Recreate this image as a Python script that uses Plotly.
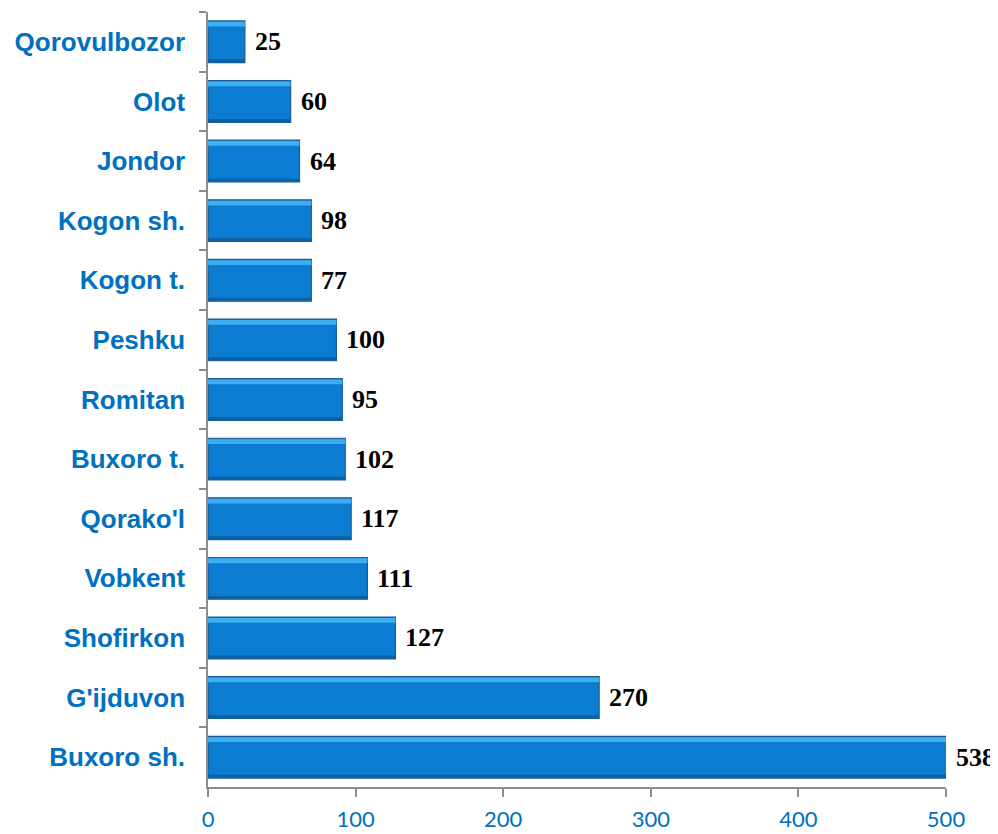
import plotly.graph_objects as go

categories = ["Qorovulbozor", "Olot", "Jondor", "Kogon sh.", "Kogon t.", "Peshku",
              "Romitan", "Buxoro t.", "Qorako'l", "Vobkent", "Shofirkon", "G'ijduvon", "Buxoro sh."]
bar_values = [25, 56, 62, 70, 70, 87, 91, 93, 97, 108, 127, 265, 538]
label_values = [25, 60, 64, 98, 77, 100, 95, 102, 117, 111, 127, 270, 538]
x_ticks = [0, 100, 200, 300, 400, 500]

X_MAX = 500

fig = go.Figure()
fig.add_trace(go.Bar(
    y=categories, x=bar_values, orientation="h", width=0.7,
    marker=dict(color="#0B7CD2", line=dict(color="#1A5C94", width=1.2)),
    hoverinfo="x+y",
))
# light highlight band along the top of each bar
fig.add_trace(go.Bar(
    y=categories, x=bar_values, orientation="h", width=0.08, offset=-0.335,
    marker=dict(color="#3FAEF0", line=dict(width=0)),
    hoverinfo="skip",
))
# darker band along the bottom of each bar
fig.add_trace(go.Bar(
    y=categories, x=bar_values, orientation="h", width=0.05, offset=0.295,
    marker=dict(color="#0C5FA0", line=dict(width=0)),
    hoverinfo="skip",
))

for c, v, lab in zip(categories, bar_values, label_values):
    fig.add_annotation(x=min(v, X_MAX), y=c, text=f"<b>{lab}</b>", showarrow=False,
                       xanchor="left", xshift=8,
                       font=dict(family="Liberation Serif", size=26, color="#000000"))

fig.update_layout(
    width=990, height=826,
    margin=dict(l=200, r=52, t=4, b=47),
    paper_bgcolor="white", plot_bgcolor="white",
    barmode="overlay", showlegend=False,
    xaxis=dict(range=[0, X_MAX], tickvals=x_ticks, showgrid=False, zeroline=False,
               automargin=False,
               showline=True, linecolor="#8C8C8C", linewidth=1.5,
               ticks="outside", ticklen=8, tickcolor="#8C8C8C", tickwidth=1.5,
               ticklabelstandoff=4,
               tickfont=dict(family="Lato", size=22, color="#0070C0")),
    yaxis=dict(autorange="reversed", showgrid=False, zeroline=False,
               automargin=False,
               showline=True, linecolor="#8C8C8C", linewidth=1.5,
               ticks="outside", ticklen=7, tickcolor="#8C8C8C", tickwidth=1.5,
               tickson="boundaries", ticklabelstandoff=16,
               tickprefix="<b>", ticksuffix="</b>",
               tickfont=dict(family="Liberation Sans", size=26, color="#0070C0")),
)

fig.write_html("out.html")
